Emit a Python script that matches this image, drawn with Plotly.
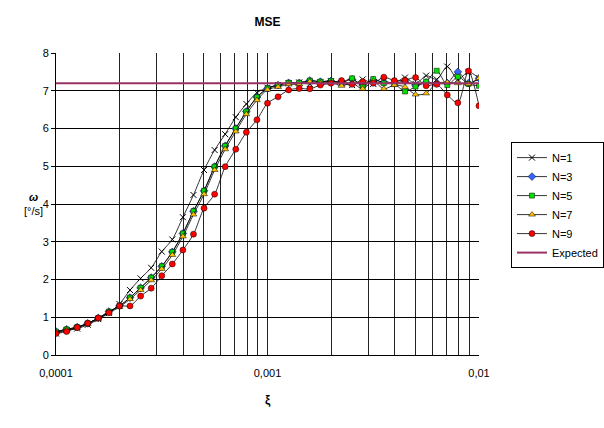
import numpy as np
import plotly.graph_objects as go

# Step in xi: 20 samples per decade from 1e-4 to 1e-2
xi_exp = [-4 + k * 0.05 for k in range(41)]
xi = [10 ** e for e in xi_exp]

omega_n1 = [0.57, 0.66, 0.70, 0.80, 0.95, 1.11, 1.35, 1.72, 2.03, 2.31,
            2.74, 3.06, 3.65, 4.24, 4.90, 5.43, 5.85, 6.30, 6.65, 6.95,
            7.08, 7.15, 7.20, 7.22, 7.18, 7.22, 7.25, 7.20, 7.15, 7.30,
            7.18, 7.25, 7.20, 7.35, 7.18, 7.40, 7.30, 7.64, 7.30, 7.50, 7.33]
omega_n3 = [0.62, 0.68, 0.74, 0.84, 0.98, 1.15, 1.30, 1.52, 1.78, 2.05,
            2.35, 2.73, 3.22, 3.81, 4.35, 4.99, 5.54, 6.00, 6.45, 6.83,
            7.06, 7.15, 7.21, 7.21, 7.27, 7.24, 7.26, 7.22, 7.30, 7.15,
            7.28, 7.22, 7.20, 7.25, 7.15, 7.22, 7.20, 7.20, 7.50, 7.20, 7.33]
omega_n5 = [0.62, 0.68, 0.74, 0.84, 0.98, 1.15, 1.30, 1.52, 1.78, 2.05,
            2.35, 2.73, 3.22, 3.81, 4.35, 4.99, 5.54, 6.00, 6.45, 6.83,
            7.06, 7.15, 7.21, 7.21, 7.27, 7.24, 7.26, 7.22, 7.33, 7.11,
            7.31, 7.20, 7.18, 6.98, 7.11, 7.24, 7.53, 7.15, 7.37, 7.18, 7.13]
omega_n7 = [0.60, 0.66, 0.72, 0.82, 0.96, 1.12, 1.27, 1.48, 1.72, 1.98,
            2.28, 2.65, 3.14, 3.72, 4.26, 4.90, 5.45, 5.92, 6.38, 6.75,
            7.03, 7.10, 7.17, 7.17, 7.24, 7.20, 7.22, 7.13, 7.20, 7.05,
            7.25, 7.05, 7.15, 7.10, 6.90, 6.93, 7.20, 7.22, 7.20, 7.18, 7.33]
omega_n9 = [0.57, 0.62, 0.73, 0.84, 0.98, 1.12, 1.30, 1.30, 1.56, 1.77,
            2.10, 2.41, 2.78, 3.20, 3.89, 4.26, 4.99, 5.45, 5.90, 6.23,
            6.67, 6.84, 7.02, 7.06, 7.05, 7.15, 7.20, 7.27, 7.17, 7.24,
            7.20, 7.36, 7.27, 7.28, 7.35, 7.13, 7.17, 6.89, 6.68, 7.52, 6.60]
expected = 7.2

series = [
    ("N=1", omega_n1, dict(symbol="x-thin", size=6, color="black",
                           line=dict(color="black", width=1))),
    ("N=3", omega_n3, dict(symbol="diamond", size=6, color="#3366ff",
                           line=dict(color="black", width=0.5))),
    ("N=5", omega_n5, dict(symbol="square", size=5, color="#00e000",
                           line=dict(color="black", width=0.5))),
    ("N=7", omega_n7, dict(symbol="triangle-up", size=6, color="#ffc000",
                           line=dict(color="black", width=0.5))),
    ("N=9", omega_n9, dict(symbol="circle", size=6, color="#ff0000",
                           line=dict(color="black", width=0.5))),
]

fig = go.Figure()
for name, vals, marker in series:
    fig.add_trace(go.Scatter(
        x=xi, y=vals, name=name, mode="lines+markers",
        line=dict(color="black", width=0.8, shape="spline", smoothing=0.8),
        marker=marker,
    ))

fig.add_trace(go.Scatter(
    x=[xi[0], xi[-1]], y=[expected, expected], name="Expected",
    mode="lines", line=dict(color="#993366", width=2),
))

# Grid positions for every digit in each decade
grid_vals = []
grid_text = []
for dec in (-4, -3):
    for d in range(1, 10):
        grid_vals.append(d * 10.0 ** dec)
        grid_text.append({-4: "0,0001", -3: "0,001"}[dec] if d == 1 else "")
grid_vals.append(1e-2)
grid_text.append("0,01")

font = "Liberation Sans, Arial, sans-serif"

fig.update_layout(
    width=604, height=428,
    margin=dict(l=56, r=125, t=53, b=73, autoexpand=False),
    paper_bgcolor="white", plot_bgcolor="white",
    font=dict(family=font, size=11, color="black"),
    title=dict(text="<b>MSE</b>", x=0.5, xref="paper", y=0.949, yanchor="middle",
               font=dict(family=font, size=12, color="black")),
    showlegend=True,
    legend=dict(xref="container", yref="container", x=0.846, y=0.668,
                xanchor="left", yanchor="top",
                bgcolor="white", bordercolor="black", borderwidth=1,
                font=dict(family=font, size=11, color="black"),
                tracegroupgap=0, itemwidth=30),
    xaxis=dict(type="log", range=[-4, -2], tickvals=grid_vals, ticktext=grid_text,
               showgrid=True, gridcolor="#222222", gridwidth=1,
               ticks="", ticklabelstandoff=8, zeroline=False, showline=True,
               linecolor="black", linewidth=1, tickfont=dict(size=11)),
    yaxis=dict(range=[0, 8], dtick=1, showgrid=True, gridcolor="black",
               gridwidth=1, ticks="outside", ticklen=4, tickcolor="black",
               showline=True, linecolor="black", linewidth=1, zeroline=False,
               tickfont=dict(size=11)),
    annotations=[
        dict(text="<b>ξ</b>", xref="paper", yref="paper", x=0.5, y=-0.149,
             yanchor="middle", showarrow=False, font=dict(family=font, size=12)),
        dict(text="<b><i>ω</i></b><br>[°/s]", xref="paper", yref="paper",
             x=-0.054, y=0.5, xanchor="center", yanchor="middle", showarrow=False,
             font=dict(family=font, size=11)),
    ],
)

fig.write_html("out.html")
